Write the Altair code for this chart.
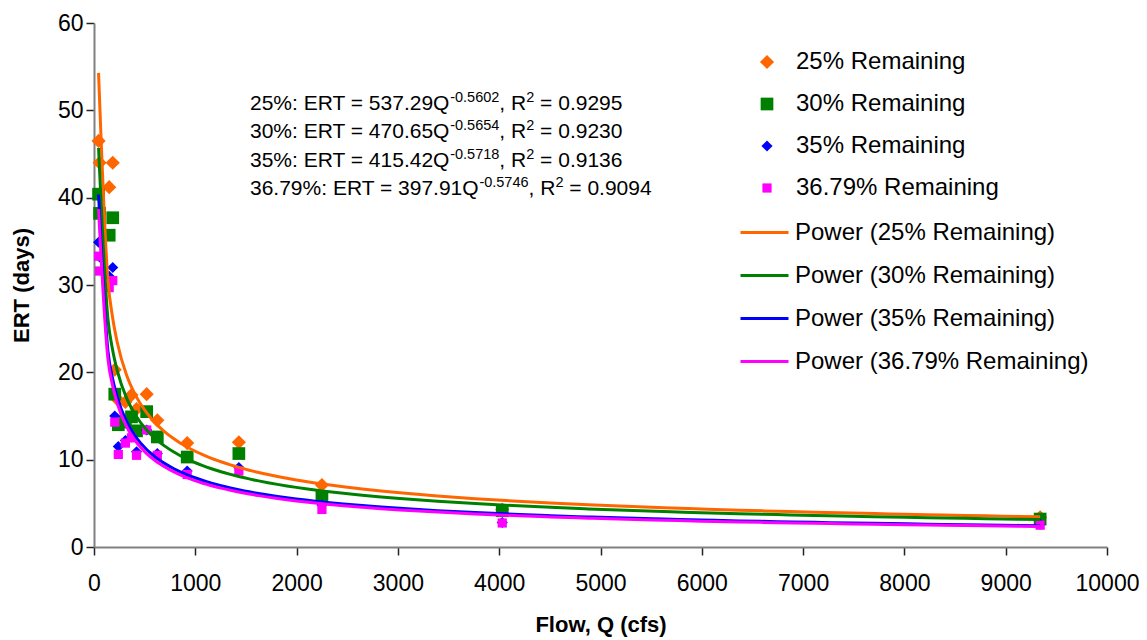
import altair as alt
import pandas as pd

FONT = "Liberation Sans"

# Flow values (cfs) shared by every series
flow_q = [45, 55, 150, 185, 205, 240, 310, 370, 420, 520, 625, 920, 1430, 2250, 4030, 9340]

# ERT (days)
ert_25 = [46.5, 44.0, 41.2, 44.0, 20.3, 16.8, 16.6, 17.4, 15.8, 17.5, 14.5, 11.9, 12.0, 7.1, 4.3, 3.4]
ert_30 = [40.4, 38.2, 35.7, 37.7, 17.5, 14.0, 14.3, 14.9, 13.3, 15.5, 12.6, 10.3, 10.7, 5.8, 4.15, 3.2]
ert_35 = [34.9, 33.2, 31.0, 32.0, 15.0, 11.5, 12.2, 12.6, 10.9, 13.4, 10.7, 8.7, 9.1, 4.8, 2.8, 2.6]
ert_3679 = [33.3, 31.6, 29.7, 30.5, 14.3, 10.6, 11.9, 12.5, 10.5, 13.4, 10.5, 8.3, 8.7, 4.3, 2.75, 2.5]

series_names = ["25% Remaining", "30% Remaining", "35% Remaining", "36.79% Remaining"]
fit_names = ["Power (25% Remaining)", "Power (30% Remaining)",
             "Power (35% Remaining)", "Power (36.79% Remaining)"]
colors = ["#FF6600", "#008000", "#0000FF", "#FF00FF"]
shapes = ["diamond", "square", "diamond", "square"]
sizes = [200, 85, 200, 85]

# Trendline equation annotation (text as printed on the chart)
eq_prefix = ["25%", "30%", "35%", "36.79%"]
eq_coef = ["537.29", "470.65", "415.42", "397.91"]
eq_exp = ["-0.5602", "-0.5654", "-0.5718", "-0.5746"]
eq_r2 = ["0.9295", "0.9230", "0.9136", "0.9094"]

x_ticks = list(range(0, 10001, 1000))
y_ticks = list(range(0, 61, 10))

# ---- geometry of the plot area ----
W, H = 1013, 524
X_MAX, Y_MAX = 10000, 60

rows = []
for name, fit, vals in zip(series_names, fit_names, [ert_25, ert_30, ert_35, ert_3679]):
    for q, v in zip(flow_q, vals):
        rows.append({"Q": q, "ERT": v, "series": name, "fit": fit})
df = pd.DataFrame(rows)

# Arial / Liberation Sans advance widths (per 1000 em) for annotation layout
ADV = {**{d: 556 for d in "0123456789"}, ".": 278, ":": 278, "%": 889, " ": 278,
       "E": 667, "R": 722, "T": 611, "=": 584, "Q": 778, ",": 278, "-": 333}


def text_width(s, fs):
    return sum(ADV.get(c, 556) for c in s) * fs / 1000.0


BASE_FS, SUP_FS, SUP_RISE = 21, 14.5, 8
ann_left_px = 156          # left edge of annotation block inside plot
ann_first_base_px = 86.5   # baseline of first line from plot top
ann_line_h = 28.5
SPACE_PX = 278 * BASE_FS / 1000.0

ann_rows = []
for i, (p, c, e, r) in enumerate(zip(eq_prefix, eq_coef, eq_exp, eq_r2)):
    # (text, superscript?, gap after)
    parts = [(f"{p}: ERT = {c}Q", False, 0), (e, True, 0), (", R", False, 0),
             ("2", True, SPACE_PX), (f"= {r}", False, 0)]
    xpx = ann_left_px
    base_px = ann_first_base_px + i * ann_line_h
    for txt, sup, gap in parts:
        fs = SUP_FS if sup else BASE_FS
        ypx = base_px - (SUP_RISE if sup else 0)
        ann_rows.append({
            "Q": xpx * X_MAX / W,
            "ERT": (H - ypx) * Y_MAX / H,
            "t": txt,
            "fs": fs,
        })
        xpx += text_width(txt, fs) + gap
ann_df = pd.DataFrame(ann_rows)

base = alt.Chart(df)

x_enc = alt.X(
    "Q:Q",
    scale=alt.Scale(domain=[0, X_MAX], nice=False),
    axis=alt.Axis(values=x_ticks, title="Flow, Q (cfs)", labelPadding=17, titlePadding=19,
                  format="d"),
)
y_enc = alt.Y(
    "ERT:Q",
    scale=alt.Scale(domain=[0, Y_MAX], nice=False),
    axis=alt.Axis(values=y_ticks, title="ERT (days)", labelPadding=3, titlePadding=24),
)

points = base.mark_point(filled=True, opacity=1, strokeWidth=0).encode(
    x=x_enc,
    y=y_enc,
    color=alt.Color(
        "series:N",
        scale=alt.Scale(domain=series_names, range=colors),
        legend=alt.Legend(
            title=None, orient="none", legendX=661, legendY=27, padding=0,
            labelFontSize=24, labelFont=FONT, labelColor="black", labelOffset=17,
            labelLimit=500, rowPadding=18,
        ),
    ),
    shape=alt.Shape("series:N", scale=alt.Scale(domain=series_names, range=shapes)),
    size=alt.Size("series:N", scale=alt.Scale(domain=series_names, range=sizes)),
)

lines = base.transform_regression(
    "Q", "ERT", method="pow", groupby=["fit"]
).mark_line(strokeWidth=3, clip=True, interpolate="monotone").encode(
    x="Q:Q",
    y="ERT:Q",
    color=alt.Color(
        "fit:N",
        scale=alt.Scale(domain=fit_names, range=colors),
        legend=alt.Legend(
            title=None, orient="none", legendX=645, legendY=184, padding=0,
            labelFontSize=24, labelFont=FONT, labelColor="black", labelOffset=5,
            labelLimit=500, rowPadding=5, symbolType="stroke", symbolStrokeWidth=3,
            symbolSize=2304,
        ),
    ),
)

annotation = alt.Chart(ann_df).mark_text(
    align="left", baseline="alphabetic", font=FONT, color="black",
).encode(
    x="Q:Q",
    y="ERT:Q",
    text="t:N",
    size=alt.Size("fs:Q", scale=None, legend=None),
)

chart = alt.layer(points, lines, annotation).resolve_scale(
    color="independent", shape="independent", size="independent"
).properties(
    width=W, height=H,
    padding={"left": 86, "top": 15, "right": 32, "bottom": 93},
    autosize=alt.AutoSizeParams(type="none"),
).configure_view(stroke=None).configure_axis(
    grid=False, domainColor="#808080", domainWidth=2, tickColor="#222222",
    tickSize=8, tickWidth=1.5, labelFontSize=23, labelFont=FONT, labelColor="black",
    titleFontSize=22, titleFont=FONT, titleFontWeight="bold", titleColor="black",
    labelFlush=False, labelOverlap=False,
)

chart.save("out.html", embed_options={"renderer": "svg", "actions": False})
